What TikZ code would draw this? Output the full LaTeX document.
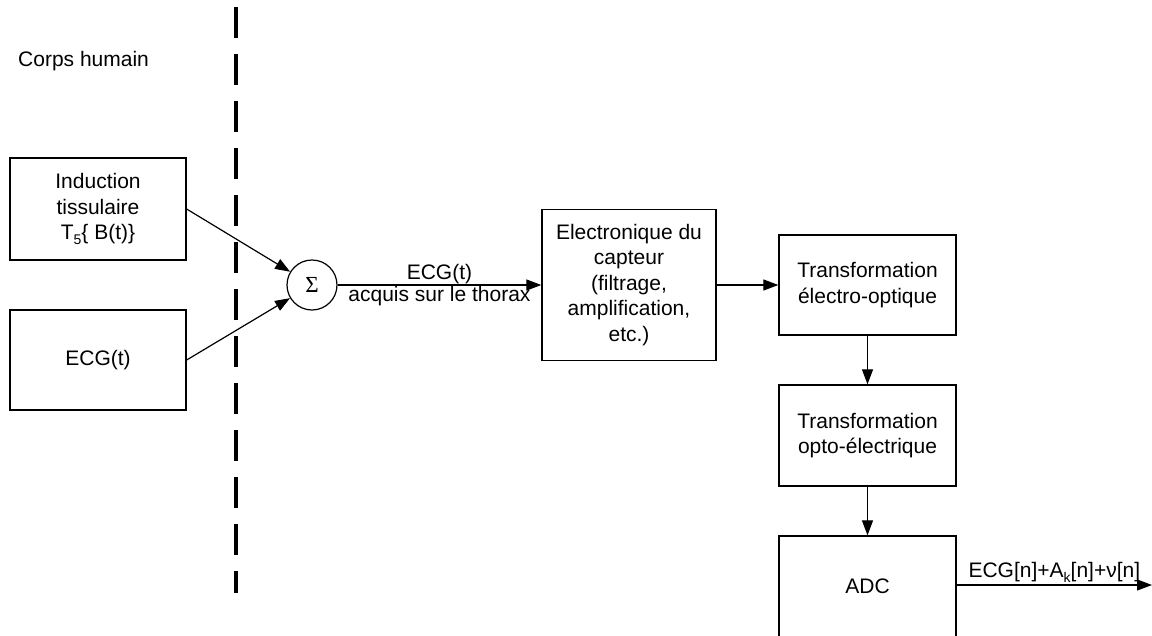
\documentclass[tikz,border=0pt]{standalone}
\usepackage{fontspec}
\setmainfont{Liberation Sans}
\newfontfamily\sigmafont{Liberation Serif}
\usetikzlibrary{arrows.meta}
\begin{document}
\begin{tikzpicture}[x=1pt,y=-1pt,
  font=\fontsize{21}{25.5}\selectfont,
  blk/.style={draw,line width=1.3pt,align=center,inner sep=0pt},
  arr/.style={line width=1.2pt,-{Triangle[length=15pt,width=11pt]}},
  sep/.style={line width=4pt,dash pattern=on 31pt off 16pt}]
\useasboundingbox (0,0) rectangle (1152,635);
\clip (0,0) rectangle (1152,635);
\fill[white] (0,0) rectangle (1152,635);

\node[anchor=base west,inner sep=0pt] (corps) at (18,66) {Corps humain};

\coordinate (septop) at (236,7);
\coordinate (sepbot) at (236,593);
\draw[sep] (septop) -- (sepbot);

\node[blk,minimum width=176pt,minimum height=102pt] (in1) at (98,209)
  {Induction\\tissulaire\\T\raisebox{-0.45ex}{\fontsize{14}{14}\selectfont 5}\{ B(t)\}};
\node[blk,minimum width=176pt,minimum height=100pt] (in2) at (98,360) {ECG(t)};
\node[draw,circle,line width=1.2pt,minimum size=50pt,inner sep=0pt] (sum) at (312,285)
  {\sigmafont\fontsize{23}{23}\selectfont Σ};
\node[blk,minimum width=174pt,minimum height=151pt] (elec) at (629,285)
  {Electronique du\\capteur\\(filtrage,\\amplification,\\etc.)};
\node[blk,minimum width=177pt,minimum height=100pt] (eo) at (867.5,285)
  {Transformation\\électro-optique};
\node[blk,minimum width=177pt,minimum height=101pt] (oe) at (867.5,435.5)
  {Transformation\\opto-électrique};
\node[blk,minimum width=177pt,minimum height=101pt] (adc) at (867.5,586.5) {ADC};
\coordinate (out) at (1152,585);

\draw[arr] (in1.east) -- (sum);
\draw[arr] (in2.east) -- (sum);
\draw[arr] (sum) -- node[above,inner sep=1pt]{ECG(t)} node[below,inner sep=1pt]{acquis sur le thorax} (elec);
\draw[arr] (elec) -- (eo);
\draw[arr] (eo) -- (oe);
\draw[arr] (oe) -- (adc);
\draw[arr] (adc.east |- out) -- node[above,inner sep=2pt]{ECG[n]+A\raisebox{-0.45ex}{\fontsize{14}{14}\selectfont k}[n]+ν[n]} (out);
\end{tikzpicture}
\end{document}
